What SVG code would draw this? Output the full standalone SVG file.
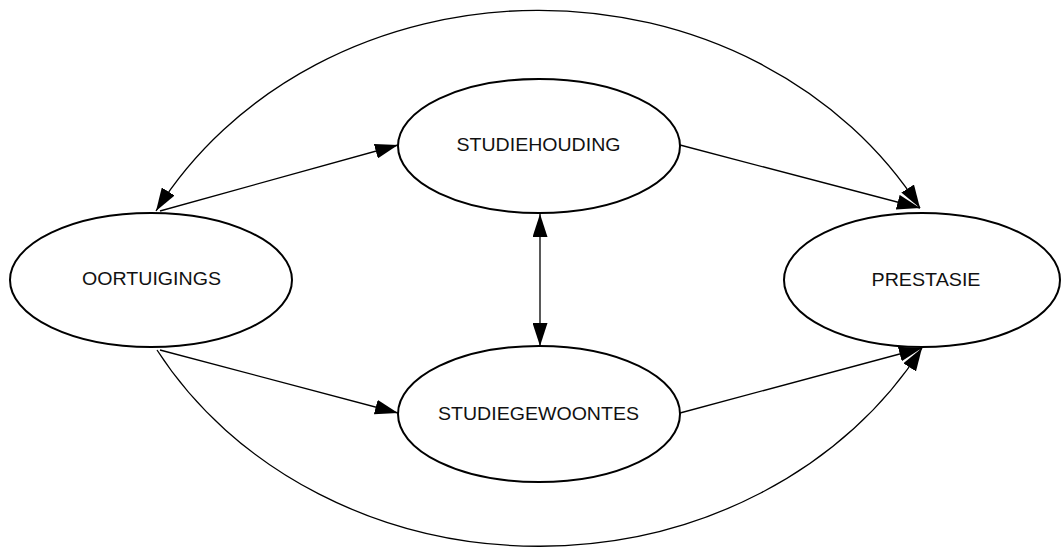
<svg xmlns="http://www.w3.org/2000/svg" width="1062" height="549" viewBox="0 0 1062 549">
<style>
.node ellipse{fill:#fff;stroke:#000;stroke-width:2}
.node text{font-family:"Liberation Sans",Arial,sans-serif;font-size:18px;fill:#111;text-anchor:middle}
.conn path,.conn line{fill:none;stroke:#000;stroke-width:1.3}
</style>
<defs>
<marker id="ah" markerUnits="userSpaceOnUse" markerWidth="24" markerHeight="15" refX="23" refY="7.5" orient="auto-start-reverse" viewBox="0 0 24 15">
<path d="M0,0 L23,7.5 L0,15 z" fill="#000"/>
</marker>
</defs>
<g id="connectors" class="conn">
<path d="M156,211 A438,390 0 0 1 920,208" marker-start="url(#ah)" marker-end="url(#ah)"/>
<path d="M157,350 A440,390 0 0 0 922,348" marker-end="url(#ah)"/>
<line x1="160" y1="211" x2="398" y2="145" marker-end="url(#ah)"/>
<line x1="680" y1="145" x2="920" y2="208" marker-end="url(#ah)"/>
<line x1="160" y1="350" x2="398" y2="413" marker-end="url(#ah)"/>
<line x1="680" y1="413" x2="922" y2="348" marker-end="url(#ah)"/>
<line x1="540" y1="214" x2="540" y2="346" marker-start="url(#ah)" marker-end="url(#ah)"/>
</g>
<g id="oortuigings" class="node">
<ellipse cx="151" cy="280" rx="141" ry="67"/>
<text x="151.5" y="285" textLength="139" lengthAdjust="spacingAndGlyphs">OORTUIGINGS</text>
</g>
<g id="studiehouding" class="node">
<ellipse cx="539" cy="146" rx="141" ry="67"/>
<text x="538.5" y="151" textLength="164" lengthAdjust="spacingAndGlyphs">STUDIEHOUDING</text>
</g>
<g id="studiegewoontes" class="node">
<ellipse cx="539" cy="414" rx="141" ry="68"/>
<text x="538.5" y="420" textLength="201" lengthAdjust="spacingAndGlyphs">STUDIEGEWOONTES</text>
</g>
<g id="prestasie" class="node">
<ellipse cx="922" cy="280" rx="138" ry="67"/>
<text x="926" y="286" textLength="109" lengthAdjust="spacingAndGlyphs">PRESTASIE</text>
</g>
</svg>
